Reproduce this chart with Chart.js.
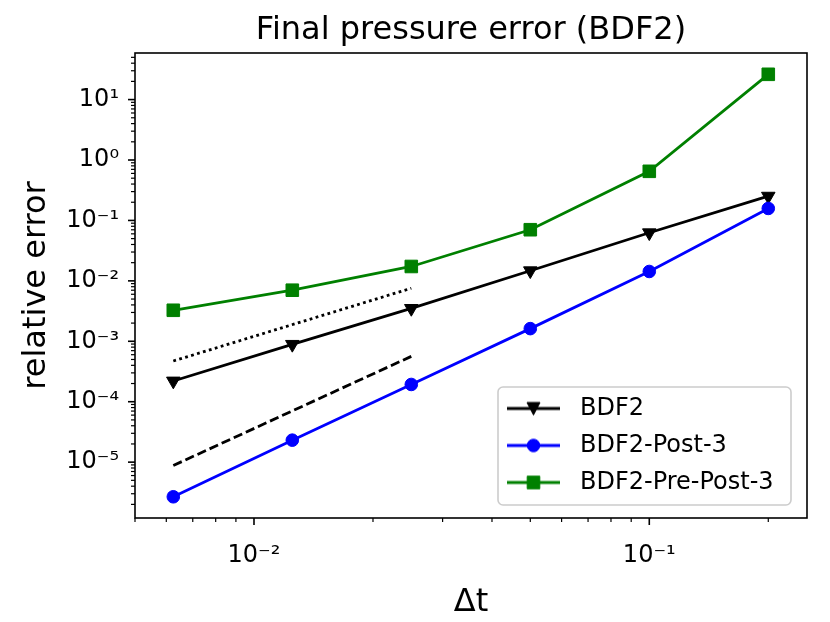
<!DOCTYPE html>
<html>
<head>
<meta charset="utf-8">
<script src="https://cdn.jsdelivr.net/npm/chart.js@4/dist/chart.umd.min.js"></script>
<style>
  html, body { margin: 0; padding: 0; background: #fff; }
  canvas { display: block; }
</style>
</head>
<body>
<canvas id="chart" width="830" height="622"></canvas>
<script>
// time steps and relative errors
const dtValues = [0.00625, 0.0125, 0.025, 0.05, 0.1, 0.2];
const bdf2Err = [2.2e-4, 8.9e-4, 3.5e-3, 1.47e-2, 6.25e-2, 2.52e-1];
const post3Err = [2.67e-6, 2.31e-5, 1.93e-4, 1.62e-3, 1.43e-2, 1.58e-1];
const prePost3Err = [3.26e-3, 7.0e-3, 1.73e-2, 7.02e-2, 0.65, 26.2];
// reference slopes (order 2 dotted, order 3 dashed)
const refDt = [0.00625, 0.025];
const order2Ref = [4.72e-4, 7.55e-3];
const order3Ref = [8.8e-6, 5.63e-4];
const seriesNames = ['BDF2', 'BDF2-Post-3', 'BDF2-Pre-Post-3'];

const xMin = 0.005, xMax = 0.2506;
const yMin = 1.19e-6, yMax = 59;

Chart.defaults.font.family = "'DejaVu Sans', sans-serif";
Chart.defaults.color = '#000';

const SUP = {'-': '\u207B', '0': '\u2070', '1': '\u00B9', '2': '\u00B2', '3': '\u00B3',
  '4': '\u2074', '5': '\u2075', '6': '\u2076', '7': '\u2077', '8': '\u2078', '9': '\u2079'};

function powLabel(v) {
  const l = Math.log10(v);
  const e = Math.round(l);
  if (Math.abs(l - e) > 1e-6) return '';
  return '10' + String(e).split('').map(c => SUP[c]).join('');
}

function pts(xs, ys) {
  return xs.map((x, i) => ({x: x, y: ys[i]}));
}

const lineW = 2.8;

// legend icons: short line with the marker in the middle
function makeIcon(color, shape) {
  const c = document.createElement('canvas');
  c.width = 61; c.height = 20;
  const g = c.getContext('2d');
  g.strokeStyle = color;
  g.fillStyle = color;
  g.lineWidth = lineW;
  g.beginPath(); g.moveTo(0, 10); g.lineTo(53, 10); g.stroke();
  g.lineWidth = 1;
  g.beginPath();
  const cx = 26.5, cy = 10;
  if (shape == 'tri') {
    g.moveTo(cx - 6.5, cy - 6); g.lineTo(cx + 6.5, cy - 6); g.lineTo(cx, cy + 6.5); g.closePath();
  } else if (shape == 'circle') {
    g.arc(cx, cy, 6.3, 0, Math.PI * 2);
  } else {
    g.rect(cx - 6.3, cy - 6.3, 12.6, 12.6);
  }
  g.fill(); g.stroke();
  return c;
}
const legendIcons = [makeIcon('#000000', 'tri'), makeIcon('#0000ff', 'circle'), makeIcon('#008000', 'square')];

// spines, tick marks and legend frame
const axesDeco = {
  id: 'axesDeco',
  afterLayout(chart) {
    const ca = chart.chartArea;
    const lg = chart.legend;
    const fr = {w: 293, h: 118};
    fr.x = ca.right - 16 - fr.w;
    fr.y = ca.bottom - 13 - fr.h;
    chart.$frame = fr;
    lg.left = fr.x - 4;
    lg.top = fr.y - 3.5;
    lg.right = lg.left + lg.width;
    lg.bottom = lg.top + 200;
    lg.height = 200;
  },
  beforeDraw(chart) {
    const ctx = chart.ctx;
    const fr = chart.$frame;
    ctx.save();
    ctx.beginPath();
    ctx.roundRect(fr.x, fr.y, fr.w, fr.h, 5);
    ctx.fillStyle = 'rgba(255,255,255,0.8)';
    ctx.fill();
    ctx.lineWidth = 1.6;
    ctx.strokeStyle = '#cccccc';
    ctx.stroke();
    ctx.restore();
  },
  afterDatasetsDraw(chart) {
    const ctx = chart.ctx;
    const ca = chart.chartArea;
    const xs = chart.scales.x, ys = chart.scales.y;
    ctx.save();
    ctx.strokeStyle = '#000';
    for (let e = -3; e <= -1; e++) {
      for (let k = 1; k <= 9; k++) {
        const v = k * Math.pow(10, e);
        if (v < xMin * 0.999 || v > xMax * 1.001) continue;
        const px = xs.getPixelForValue(v);
        ctx.lineWidth = k == 1 ? 1.6 : 1.2;
        ctx.beginPath();
        ctx.moveTo(px, ca.bottom);
        ctx.lineTo(px, ca.bottom + (k == 1 ? 7 : 4));
        ctx.stroke();
      }
    }
    for (let e = -7; e <= 1; e++) {
      for (let k = 1; k <= 9; k++) {
        const v = k * Math.pow(10, e);
        if (v < yMin * 0.999 || v > yMax * 1.001) continue;
        const py = ys.getPixelForValue(v);
        ctx.lineWidth = k == 1 ? 1.6 : 1.2;
        ctx.beginPath();
        ctx.moveTo(ca.left, py);
        ctx.lineTo(ca.left - (k == 1 ? 7 : 4), py);
        ctx.stroke();
      }
    }
    ctx.lineWidth = 1.6;
    ctx.strokeRect(ca.left, ca.top, ca.right - ca.left, ca.bottom - ca.top);
    ctx.restore();
  }
};

const config = {
  type: 'line',
  data: {
    datasets: [
      {
        label: seriesNames[0],
        data: pts(dtValues, bdf2Err),
        borderColor: '#000000',
        backgroundColor: '#000000',
        borderWidth: lineW,
        pointStyle: 'triangle',
        rotation: 180,
        pointRadius: 7.8,
        pointBorderWidth: 1,
        order: 5,
      },
      {
        label: seriesNames[1],
        data: pts(dtValues, post3Err),
        borderColor: '#0000ff',
        backgroundColor: '#0000ff',
        borderWidth: lineW,
        pointStyle: 'circle',
        pointRadius: 6.3,
        pointBorderWidth: 1,
        order: 4,
      },
      {
        label: seriesNames[2],
        data: pts(dtValues, prePost3Err),
        borderColor: '#008000',
        backgroundColor: '#008000',
        borderWidth: lineW,
        pointStyle: 'rect',
        pointRadius: 8.9,
        pointBorderWidth: 1,
        order: 3,
      },
      {
        label: 'order 2',
        data: pts(refDt, order2Ref),
        borderColor: '#000000',
        borderWidth: lineW,
        borderDash: [2.8, 3.4],
        pointRadius: 0,
        order: 2,
      },
      {
        label: 'order 3',
        data: pts(refDt, order3Ref),
        borderColor: '#000000',
        borderWidth: lineW,
        borderDash: [9.3, 4],
        pointRadius: 0,
        order: 1,
      },
    ],
  },
  options: {
    responsive: false,
    animation: false,
    events: [],
    layout: { padding: { left: 0, right: 23, top: 0, bottom: 0 } },
    scales: {
      x: {
        type: 'logarithmic',
        min: xMin,
        max: xMax,
        grid: { display: false, drawTicks: false },
        border: { display: false },
        ticks: {
          autoSkip: false,
          maxRotation: 0,
          padding: 23,
          font: { size: 24 },
          callback: v => powLabel(v),
        },
        title: { display: true, text: '\u0394t', font: { size: 32 }, padding: { top: 0, bottom: 0 } },
        afterFit: s => { s.height = 104; },
      },
      y: {
        type: 'logarithmic',
        min: yMin,
        max: yMax,
        grid: { display: false, drawTicks: false },
        border: { display: false },
        ticks: {
          autoSkip: false,
          padding: 16,
          font: { size: 24 },
          callback: v => powLabel(v),
        },
        title: { display: true, text: 'relative error', font: { size: 32 }, padding: { top: 17, bottom: 0 } },
        afterFit: s => { s.width = 135; },
      },
    },
    plugins: {
      title: {
        display: true,
        text: 'Final pressure error (BDF2)',
        fullSize: false,
        font: { size: 32, weight: 'normal' },
        padding: { top: 11, bottom: 3.6 },
      },
      legend: {
        position: 'chartArea',
        fullSize: false,
        align: 'start',
        labels: {
          usePointStyle: true,
          pointStyleWidth: 61,
          boxHeight: 24,
          padding: 13,
          font: { size: 24 },
          color: '#000',
          filter: item => item.datasetIndex < 3,
          sort: (a, b) => a.datasetIndex - b.datasetIndex,
          generateLabels: chart => Chart.defaults.plugins.legend.labels.generateLabels(chart)
            .map(item => Object.assign(item, { pointStyle: legendIcons[item.datasetIndex] || item.pointStyle, rotation: 0 })),
        },
      },
      tooltip: { enabled: false },
    },
  },
  plugins: [axesDeco],
};

const chart = new Chart(document.getElementById('chart'), config);
</script>
</body>
</html>
